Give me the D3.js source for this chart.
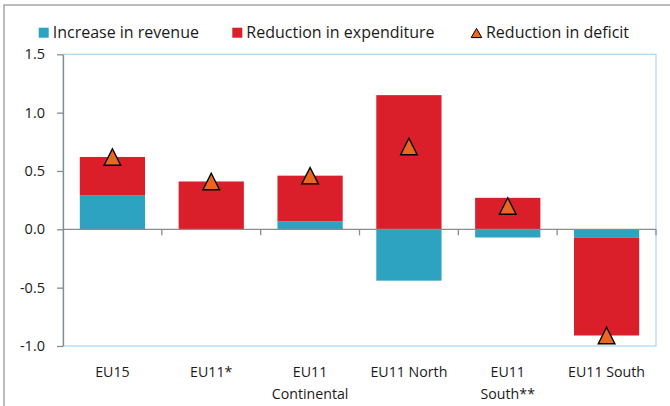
<!DOCTYPE html>
<html>
<head>
<meta charset="utf-8">
<script src="https://cdn.jsdelivr.net/npm/d3@7"></script>
<style>
  body { margin: 0; background: #fff; }
  svg { display: block; font-family: "Open Sans", sans-serif; }
</style>
</head>
<body>
<script>
var w = 670;
var h = 406;

// chart values
var categories = ["EU15", "EU11*", "EU11\nContinental", "EU11 North", "EU11\nSouth**", "EU11 South"];
var revenue = [0.29, 0, 0.07, -0.44, -0.07, -0.07];      // increase in revenue
var expenditure = [0.33, 0.41, 0.39, 1.15, 0.27, -0.84]; // reduction in expenditure
var deficit = [0.62, 0.41, 0.46, 0.71, 0.20, -0.91];     // reduction in deficit
var yTicks = [-1.0, -0.5, 0, 0.5, 1.0, 1.5];
var seriesNames = ["Increase in revenue", "Reduction in expenditure", "Reduction in deficit"];

var colors = {revenue: "#2ea3c1", expenditure: "#da1f2b", deficit: "#ea671f"};

var plotLeft = 63, plotRight = 656, plotTop = 54.3, plotBottom = 346;

// triangle path centred on its mid-height
function triangle(hw, hh) {
    return "M0," + (-hh) + "L" + hw + "," + hh + "L" + (-hw) + "," + hh + "Z";
}

var svg = d3.select("body").append("svg")
    .attr("width", w)
    .attr("height", h);

// outer frame (runs off the right and bottom edges)
svg.append("rect")
    .attr("x", 4).attr("y", 5)
    .attr("width", 800).attr("height", 600)
    .attr("fill", "none")
    .attr("stroke", "#a6a6a6")
    .attr("stroke-width", 1.5);

var x = d3.scaleBand()
    .domain(categories)
    .range([plotLeft, plotRight])
    .paddingInner(0.34)
    .paddingOuter(0.17);

var y = d3.scaleLinear()
    .domain([-1.0, 1.5])
    .range([plotBottom, plotTop]);

// plot area border
svg.append("rect")
    .attr("x", plotLeft).attr("y", plotTop)
    .attr("width", plotRight - plotLeft).attr("height", plotBottom - plotTop)
    .attr("fill", "none")
    .attr("stroke", "#a9d8f0")
    .attr("stroke-width", 1.2);

// stacked bars
var rows = categories.map(function (c, i) {
    return {cat: c, revenue: revenue[i], expenditure: expenditure[i]};
});
var stack = d3.stack()
    .keys(["revenue", "expenditure"])
    .offset(d3.stackOffsetDiverging);

svg.selectAll("g.series")
    .data(stack(rows))
    .enter()
    .append("g")
    .attr("class", "series")
    .attr("fill", function (s) { return colors[s.key]; })
    .selectAll("rect")
    .data(function (s) { return s; })
    .enter()
    .append("rect")
    .attr("x", function (d) { return x(d.data.cat); })
    .attr("width", x.bandwidth())
    .attr("y", function (d) { return y(Math.max(d[0], d[1])); })
    .attr("height", function (d) { return Math.abs(y(d[0]) - y(d[1])); });

// y axis
var yAxis = svg.append("g")
    .attr("transform", "translate(" + plotLeft + ",0)")
    .call(d3.axisLeft(y)
        .tickValues(yTicks)
        .tickFormat(function (d) { return d.toFixed(1); })
        .tickSize(6)
        .tickPadding(12)
        .tickSizeOuter(0));
yAxis.select(".domain").attr("stroke", "#8c8c8c").attr("stroke-width", 1.3);
yAxis.selectAll(".tick line").attr("stroke", "#8c8c8c").attr("stroke-width", 1.3);
yAxis.selectAll(".tick text")
    .attr("fill", "#1a1a1a")
    .style("font-size", "14.5px")
    .style("font-family", "'Open Sans', sans-serif");

// zero line with category boundary ticks
var step = x.step();
var gap = step * x.paddingInner() / 2;
var zero = svg.append("g").attr("transform", "translate(0," + y(0) + ")");
zero.append("line")
    .attr("x1", plotLeft).attr("x2", plotRight)
    .attr("stroke", "#8c8c8c").attr("stroke-width", 1.3);
var bounds = categories.map(function (c) { return x(c) + x.bandwidth() + gap; });
zero.selectAll("line.tk")
    .data(bounds)
    .enter()
    .append("line")
    .attr("class", "tk")
    .attr("x1", function (d) { return d; })
    .attr("x2", function (d) { return d; })
    .attr("y1", 0).attr("y2", 6)
    .attr("stroke", "#8c8c8c").attr("stroke-width", 1.3);

// category labels
var labels = svg.selectAll("text.cat")
    .data(categories)
    .enter()
    .append("text")
    .attr("class", "cat")
    .attr("x", function (d) { return x(d) + x.bandwidth() / 2; })
    .attr("y", 377)
    .attr("text-anchor", "middle")
    .attr("fill", "#1a1a1a")
    .style("font-size", "14.2px");
labels.selectAll("tspan")
    .data(function (d) { return d.split("\n"); })
    .enter()
    .append("tspan")
    .attr("x", function () { return d3.select(this.parentNode).attr("x"); })
    .attr("dy", function (d, i) { return i === 0 ? 0 : 21.6; })
    .text(function (d) { return d; });

// reduction in deficit markers
svg.selectAll("path.mark")
    .data(deficit)
    .enter()
    .append("path")
    .attr("class", "mark")
    .attr("d", triangle(8.3, 8.2))
    .attr("transform", function (d, i) {
        return "translate(" + (x(categories[i]) + x.bandwidth() / 2) + "," + y(d) + ")";
    })
    .attr("fill", colors.deficit)
    .attr("stroke", "#000")
    .attr("stroke-width", 1.4)
    .attr("stroke-linejoin", "miter");

// legend
var legendX = [38.7, 232.3, 470.7];
var legend = svg.selectAll("g.legend")
    .data(seriesNames)
    .enter()
    .append("g")
    .attr("class", "legend")
    .attr("transform", function (d, i) { return "translate(" + legendX[i] + ",0)"; });
legend.filter(function (d, i) { return i < 2; })
    .append("rect")
    .attr("x", 0).attr("y", 27.7)
    .attr("width", 10).attr("height", 10)
    .attr("fill", function (d, i) { return i === 0 ? colors.revenue : colors.expenditure; });
legend.filter(function (d, i) { return i === 2; })
    .append("path")
    .attr("d", triangle(5.3, 4.6))
    .attr("transform", "translate(5.8,33)")
    .attr("fill", colors.deficit)
    .attr("stroke", "#000")
    .attr("stroke-width", 1);
legend.append("text")
    .attr("x", function (d, i) { return i === 2 ? 15.3 : 14; })
    .attr("y", 38.3)
    .attr("fill", "#1a1a1a")
    .style("font-size", "16px")
    .text(function (d) { return d; });
</script>
</body>
</html>
